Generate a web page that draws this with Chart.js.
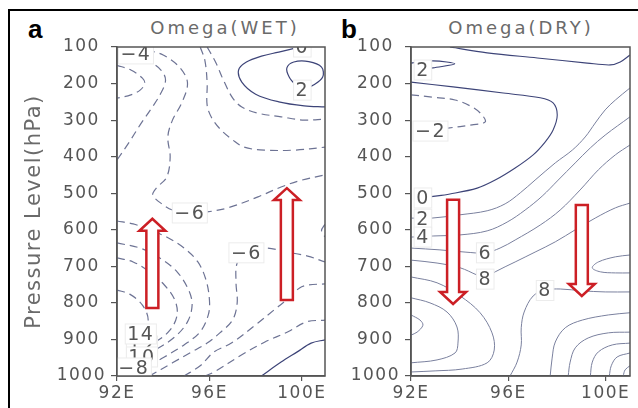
<!DOCTYPE html>
<html>
<head>
<meta charset="utf-8">
<script src="https://cdn.jsdelivr.net/npm/chart.js@4.4.1/dist/chart.umd.min.js"></script>
<style>
  body { margin: 0; background: #fff; width: 638px; height: 408px; overflow: hidden; position: relative; }
  .frame { position: absolute; left: 8px; top: 9px; width: 700px; height: 500px; border: 2px solid #000; }
  canvas { position: absolute; top: 0; }
  #wet { left: 0; }
  #dry { left: 330px; }
  .tag { position: absolute; font: bold 26px/26px "Liberation Sans", Arial, sans-serif; color: #000; }
  .ttl { position: absolute; width: 220px; text-align: center; font: 18px/18px "DejaVu Sans", sans-serif;
         letter-spacing: 3px; color: #6a6a6a; }
</style>
</head>
<body>
<div class="frame"></div>
<div class="tag" style="left:28px;top:16px">a</div>
<div class="tag" style="left:341px;top:16px">b</div>
<div class="ttl" style="left:115px;top:19px">Omega(WET)</div>
<div class="ttl" style="left:411px;top:19px">Omega(DRY)</div>
<canvas id="wet" width="330" height="408"></canvas>
<canvas id="dry" width="308" height="408"></canvas>
<script>
// axes
const pressureTicks = [100, 200, 300, 400, 500, 600, 700, 800, 900, 1000];
const lonTicks = [92, 96, 100];

// WET omega contours, [lon, hPa]
const wetTopInner = [[92,150],[92.6,163],[93.1,185],[93.2,200],[93,218],[92.6,231],[92,240]];
const wetTopA = [[92.6,130],[93.4,141],[93.9,163],[94.1,190],[93.9,226],[93.5,267],[93,313],[92.5,363],[92,409]];
const wetTopB = [[93.3,108],[94,122],[94.7,155],[95.05,198],[94.8,253],[94.4,300],[94.2,346],[94.3,401],[94.15,456],[93.7,486],[93.55,505],[94,532],[94.4,546],[95.15,554],[95.9,551],[96.8,540],[98.1,510],[99.1,483],[100,464],[101,450]];
const wetTopC = [[95.9,100],[96.1,122],[96.3,146],[96.6,190],[97,239],[97.4,264],[98.1,281],[99.1,291],[100.1,300],[101,297]];
const wetTopD = [[95.6,100],[95.8,136],[95.9,198],[95.9,259],[96.1,294],[96.5,327],[97,354],[97.5,374],[98.4,382],[99.7,382],[101,374]];
const wetCore8 = [[92,576],[92.7,584],[93.4,600],[94.15,620],[94.9,650],[95.5,688],[95.85,737],[96,792],[95.95,833],[95.6,879],[94.9,915],[94.05,948],[93.2,978],[92.75,994]];
const wetCore10 = [[92,636],[93,650],[93.85,677],[94.6,715],[95.1,765],[95.25,806],[95.05,852],[94.5,893],[93.65,929],[93,950]];
const wetCore12 = [[92,677],[92.7,688],[93.4,715],[94.05,751],[94.5,792],[94.6,833],[94.3,874],[93.65,907],[93.1,918]];
const wetCore14 = [[92,765],[92.55,776],[93.1,806],[93.35,847],[93.1,885]];
const wetLow6 = [[93.4,1000],[94.4,964],[95.15,937],[95.9,910],[96.45,882],[97,847],[97.2,800],[97.15,745],[97.2,691],[97.6,663],[98.4,650],[99.35,661],[100.25,672],[101,688]];
const wetLow4 = [[94.9,1000],[95.6,972],[96.2,934],[96.95,910],[98.1,855],[98.8,819],[99.45,786],[99.9,759],[100.3,751],[101,748]];
const wetLow2 = [[95.8,1000],[96.2,989],[97.4,942],[98.4,907],[99.4,879],[100.2,852],[101,847]];
const wetEdge = [[101,585],[100.85,602],[101,620]];
const wetZeroCap = [[99.9,100],[99,114],[98.25,125],[97.6,141],[97.26,163],[97.4,196],[98,229],[99,250],[100.1,261],[101,264]];
const wetTwoCap = [[100.02,218],[99.75,205],[99.45,182],[99.35,157],[99.65,141],[100.3,140],[100.85,155],[100.9,182],[100.5,204],[100.02,218]];
const wetZeroLow = [[98.25,1000],[99.1,962],[99.8,934],[100.4,910],[101,901]];

const wetDashed = [wetTopInner, wetTopA, wetTopB, wetTopC, wetTopD, wetCore8, wetCore10, wetCore12, wetCore14, wetLow6, wetLow4, wetLow2, wetEdge];
const wetSolid = [wetZeroCap, wetTwoCap, wetZeroLow];

// contour labels [lon, hPa, text]
const wetLabels = [[92.82,119,'\u22124'],[100.02,100,'0'],[100.02,218,'2'],[95.15,554,'\u22126'],[97.6,663,'\u22126'],
  [93.08,918,'12'],[93.03,885,'14'],[93.08,948,'10'],[92.73,978,'\u22128']];
// arrows [lon, tail hPa, tip hPa]
const wetArrows = [[93.53,814,570],[99.35,792,486]];

// DRY omega contours
const dryTop = [[93.6,100],[95.13,116],[97.19,130],[99.24,144],[100.19,149],[100.6,141],[101,122]];
const dryWedge = [[92,144],[92.9,138],[93.8,146],[92.9,157],[92.4,163]];
const dryZero = [[92,196],[93.73,209],[95.79,226],[97.31,239],[97.84,253],[98.01,286],[97.84,327],[97.51,360],[97.02,395],[96.28,431],[95.46,464],[94.72,486],[93.6,502],[92.78,510],[92.5,513]];
const dryNeg2 = [[92,231],[92.86,237],[93.81,245],[94.51,264],[94.92,286],[95.05,305],[94.51,313],[93.52,322],[92.78,330],[92.3,330]];
const dryTwo = [[92,568],[92.86,568],[94.02,559],[95.13,548],[95.87,529],[96.49,499],[97.1,464],[97.93,417],[98.63,382],[99.16,346],[99.57,308],[99.98,272],[100.4,245],[101,212]];
const dryFour = [[92,620],[92.91,617],[94.02,614],[95.13,603],[95.95,579],[96.69,546],[97.39,508],[98.05,464],[98.75,417],[99.37,376],[99.98,341],[101,291]];
const drySix = [[92,650],[93.19,655],[94.22,661],[95.05,663],[95.66,650],[96.28,628],[97.31,587],[98.13,546],[98.95,491],[99.7,436],[100.4,395],[101,368]];
const dryEight = [[92,683],[93.07,691],[94.02,704],[94.72,724],[95.05,732],[95.46,715],[96.28,688],[97.1,661],[97.93,633],[98.75,600],[99.57,568],[100.4,540],[101,527]];
const dryEightLow = [[96.07,1000],[96.36,962],[96.53,915],[96.53,868],[96.65,825],[97.02,781],[97.51,765],[98.13,762],[99.04,767],[99.98,770],[101,770]];
const dryTongue = [[101,669],[100.4,674],[99.7,688],[99.45,704],[99.78,715],[100.4,718],[101,718]];
const dryRight1 = [[101,827],[100.11,833],[99.04,847],[98.34,868],[97.93,907],[97.8,951],[97.72,1000]];
const dryRight2 = [[101,880],[100.11,882],[99.28,896],[98.75,923],[98.54,962],[98.46,1000]];
const dryRight3 = [[101,910],[100.27,915],[99.7,934],[99.45,962],[99.37,1000]];
const dryRight4 = [[101,937],[100.47,948],[100.23,972],[100.15,1000]];
const dryRight5 = [[101,972],[100.8,983],[100.72,1000]];
const dryLeft1 = [[92,729],[93.07,745],[94.02,781],[94.84,827],[95.33,882],[95.42,929],[95.13,964],[94.1,981],[92.99,986],[92,989]];
const dryLeft2 = [[92,786],[92.78,800],[93.48,825],[93.89,866],[93.93,910],[93.81,937],[93.07,956],[92,964]];
const dryLeft3 = [[92,833],[92.37,847],[92.49,861],[92.25,880],[92,888]];

const dryDark = [dryTop, dryWedge, dryZero];
const dryDashed = [dryNeg2];
const dryThin = [dryTwo, dryFour, drySix, dryEight, dryEightLow, dryTongue, dryRight1, dryRight2, dryRight3, dryRight4, dryRight5, dryLeft1, dryLeft2, dryLeft3];

const dryLabels = [[92.49,163,'2'],[92.8,330,'\u22122'],[92.49,513,'0'],[92.49,571,'2'],[92.49,620,'4'],[95.05,663,'6'],[95.05,735,'8'],[97.51,766,'8']];
const dryArrows = [[93.73,518,803],[99.02,532,781]];

const FONT = '"DejaVu Sans", sans-serif';
const AXIS = '#555';

function lineSet(pts, color, width, dash) {
  return {
    data: pts.map(([x, y]) => ({ x, y })),
    borderColor: color, borderWidth: width, borderDash: dash || [],
    pointRadius: 0, tension: 0.35, fill: false
  };
}

function drawArrow(ctx, x, yTail, yTip) {
  const sw = 6, hw = 13, hl = 12;
  const dir = yTip > yTail ? 1 : -1;
  const yb = yTip - dir * hl;
  ctx.beginPath();
  ctx.moveTo(x - sw, yTail);
  ctx.lineTo(x - sw, yb);
  ctx.lineTo(x - hw, yb);
  ctx.lineTo(x, yTip);
  ctx.lineTo(x + hw, yb);
  ctx.lineTo(x + sw, yb);
  ctx.lineTo(x + sw, yTail);
  ctx.closePath();
  ctx.fillStyle = '#fff';
  ctx.fill();
  ctx.lineJoin = 'miter';
  ctx.lineWidth = 2.5;
  ctx.strokeStyle = '#cc1f25';
  ctx.stroke();
}

// arrows, contour labels and the plot box
const panelDecor = {
  id: 'panelDecor',
  beforeLayout(chart) { chart.ctx.letterSpacing = '1.5px'; },
  beforeDraw(chart) { chart.ctx.letterSpacing = '1.5px'; },
  afterDatasetsDraw(chart, args, opts) {
    const { ctx, chartArea: a, scales: { x, y } } = chart;
    ctx.save();
    ctx.beginPath();
    ctx.rect(a.left, a.top, a.right - a.left, a.bottom - a.top);
    ctx.clip();
    opts.arrows.forEach(([lon, from, to]) =>
      drawArrow(ctx, x.getPixelForValue(lon), y.getPixelForValue(from), y.getPixelForValue(to)));
    ctx.font = '19px ' + FONT;
    ctx.textAlign = 'center';
    ctx.textBaseline = 'middle';
    opts.labels.forEach(([lon, p, t]) => {
      const px = x.getPixelForValue(lon), py = y.getPixelForValue(p);
      const w = ctx.measureText(t).width + 4, h = 20;
      ctx.fillStyle = '#fff';
      ctx.fillRect(px - w / 2, py - h / 2, w, h);
      ctx.strokeStyle = '#ececec';
      ctx.lineWidth = 1;
      ctx.strokeRect(px - w / 2, py - h / 2, w, h);
      ctx.fillStyle = '#555';
      ctx.fillText(t, px, py + 1);
    });
    ctx.restore();
    ctx.save();
    ctx.strokeStyle = AXIS;
    ctx.lineWidth = 1.5;
    ctx.strokeRect(a.left, a.top, a.right - a.left, a.bottom - a.top);
    ctx.restore();
  }
};

function makePanel(id, datasets, labels, arrows, yWidth, padRight, yTitle) {
  return new Chart(document.getElementById(id), {
    type: 'line',
    data: { datasets },
    options: {
      responsive: false,
      animation: false,
      events: [],
      layout: { padding: { left: 0, right: padRight, top: 47, bottom: 2 } },
      plugins: {
        legend: { display: false },
        tooltip: { enabled: false },
        panelDecor: { labels, arrows }
      },
      scales: {
        x: {
          type: 'linear', min: 92, max: 101,
          afterBuildTicks: s => { s.ticks = lonTicks.map(v => ({ value: v })); },
          ticks: { callback: v => v + 'E', color: AXIS, font: { family: FONT, size: 17 }, padding: 2, maxRotation: 0, autoSkip: false },
          grid: { drawOnChartArea: false, tickLength: 5, color: AXIS, lineWidth: 1.2 },
          border: { color: AXIS, width: 1.5 },
          afterFit: s => { s.height = 30; s.paddingLeft = 0; s.paddingRight = 0; }
        },
        y: {
          type: 'linear', min: 100, max: 1000, reverse: true,
          afterBuildTicks: s => { s.ticks = pressureTicks.map(v => ({ value: v })); },
          ticks: { callback: v => String(v), color: AXIS, font: { family: FONT, size: 17 }, padding: 5, crossAlign: 'center', autoSkip: false },
          grid: { drawOnChartArea: false, tickLength: 6, color: AXIS, lineWidth: 1.2 },
          border: { color: AXIS, width: 1.5 },
          title: yTitle
            ? { display: true, text: yTitle, color: '#6a6a6a', font: { family: FONT, size: 21 }, padding: { top: 22, bottom: 0 } }
            : { display: false },
          afterFit: s => { s.width = yWidth; s.paddingTop = 0; s.paddingBottom = 0; }
        }
      }
    },
    plugins: [panelDecor]
  });
}

const DASH = '#6d7394';
const DARK = '#3d4478';
const THIN = '#7a809e';

const wetSets = [
  ...wetDashed.map(p => lineSet(p, DASH, 1.2, [8, 5])),
  ...wetSolid.map(p => lineSet(p, DARK, 1.2))
];
const drySets = [
  ...dryThin.map(p => lineSet(p, THIN, 1)),
  ...dryDashed.map(p => lineSet(p, DASH, 1.2, [8, 5])),
  ...dryDark.map(p => lineSet(p, DARK, 1.1))
];

makePanel('wet', wetSets, wetLabels, wetArrows, 117, 5, 'Pressure Level(hPa)');
makePanel('dry', drySets, dryLabels, dryArrows, 81, 8, null);
</script>
</body>
</html>
